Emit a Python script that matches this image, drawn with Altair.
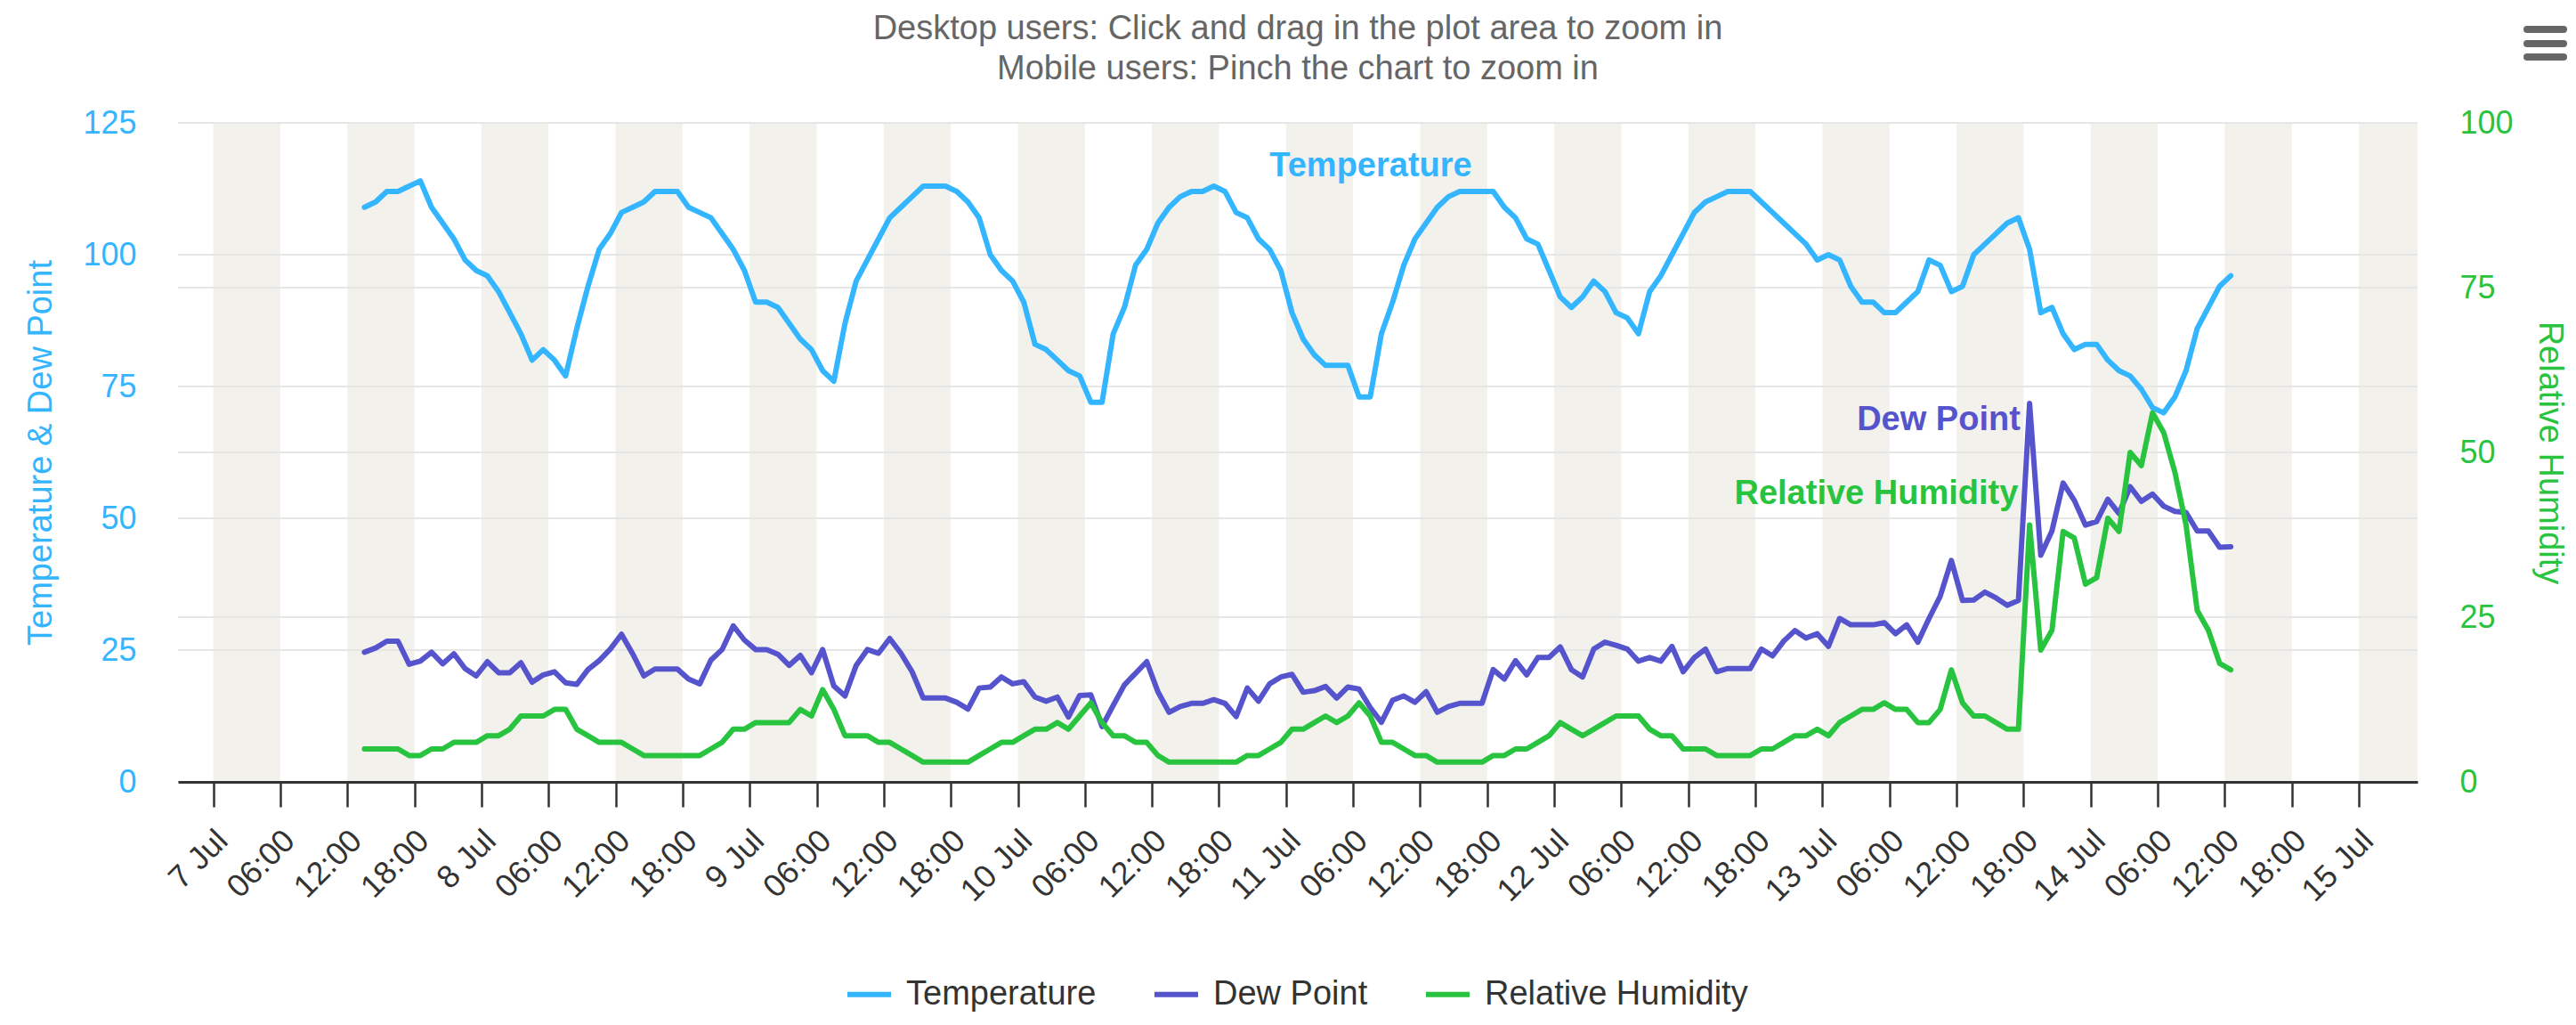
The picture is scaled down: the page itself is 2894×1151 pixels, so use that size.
import altair as alt
import pandas as pd

TEMP_COLOR = '#33B5FF'
DEW_COLOR = '#5654CC'
RH_COLOR = '#28C43F'
BAND_COLOR = '#F3F1EC'
GRID_COLOR = '#E6E6E6'
AXIS_COLOR = '#333333'
FONT = 'Liberation Sans'

# ---------------- data (hourly readings) ----------------
first_reading = '2021-07-07T13:32:00Z'

temperature = [
    109, 110, 112, 112, 113, 114, 109, 106, 103, 99, 97, 96, 93, 89, 85, 80, 82, 80, 77, 86,
    94, 101, 104, 108, 109, 110, 112, 112, 112, 109, 108, 107,
    104, 101, 97, 91, 91, 90, 87, 84, 82, 78, 76, 87, 95, 99, 103, 107, 109, 111,
    113, 113, 113, 112, 110, 107, 100, 97, 95, 91, 83, 82, 80, 78, 77, 72,
    72, 85, 90, 98, 101, 106, 109, 111, 112, 112, 113, 112, 108, 107, 103, 101, 97, 89,
    84, 81, 79, 79, 79, 73, 73, 85, 91, 98, 103, 106, 109, 111, 112, 112,
    112, 112, 109, 107, 103, 102, 97, 92, 90, 92, 95, 93, 89, 88, 85, 93, 96, 100,
    104, 108, 110, 111, 112, 112, 112, 110, 108, 106, 104, 102, 99, 100,
    99, 94, 91, 91, 89, 89, 91, 93, 99, 98, 93, 94, 100, 102, 104, 106, 107, 101,
    89, 90, 85, 82, 83, 83, 80, 78, 77, 74.5, 71, 70, 73, 78, 86, 90, 94, 96,
]

dew_point = [
    24.6, 25.4, 26.7, 26.7, 22.3, 22.9, 24.6, 22.4, 24.3, 21.5, 20.1, 22.8, 20.7, 20.7,
    22.6, 18.9, 20.3, 20.9, 18.8, 18.5, 21.3, 23.0, 25.2, 28.0, 24.3, 20.1, 21.4, 21.4,
    21.4, 19.5, 18.6, 23.1,
    25.1, 29.6, 26.9, 25.1, 25.1, 24.2, 22.1, 24.0, 20.7, 25.1, 18.2, 16.3, 22.1, 25.1,
    24.4, 27.2, 24.4, 20.9, 15.9, 15.9, 15.9, 15.1, 13.8, 17.8, 18.0, 19.9, 18.6, 19.0,
    16.1, 15.3, 16.1, 12.3, 16.4, 16.5,
    10.5, 14.5, 18.4, 20.6, 22.8, 17.1, 13.2, 14.3, 14.9, 14.9, 15.6, 14.9, 12.4, 17.8,
    15.3, 18.6, 19.9, 20.4, 17.0, 17.3, 18.1, 15.9, 18.0, 17.6, 14.1, 11.3, 15.5, 16.3,
    15.1, 17.1, 13.2, 14.3, 14.9, 14.9,
    14.9, 21.3, 19.5, 23.0, 20.3, 23.6, 23.6, 25.6, 21.3, 19.9, 25.2, 26.5, 25.9, 25.2,
    22.9, 23.6, 22.9, 25.7, 20.9, 23.6, 25.2, 20.9, 21.5, 21.5, 21.5, 25.2, 23.9, 26.7,
    28.7, 27.3, 28.1, 25.7,
    31.0, 29.8, 29.8, 29.8, 30.2, 28.1, 29.8, 26.5, 31.0, 35.2, 42.0, 34.4, 34.5, 36.0,
    34.9, 33.5, 34.4, 71.8, 43.0, 47.6, 56.7, 53.4, 48.7, 49.4, 53.6, 50.9, 56.0, 53.2,
    54.6, 52.3, 51.3, 51.1, 47.6, 47.6, 44.5, 44.6,
]

humidity = [
    5, 5, 5, 5, 4, 4, 5, 5, 6, 6, 6, 7, 7, 8, 10, 10, 10, 11, 11, 8, 7, 6, 6, 6, 5, 4,
    4, 4, 4, 4, 4, 5,
    6, 8, 8, 9, 9, 9, 9, 11, 10, 14, 11, 7, 7, 7, 6, 6, 5, 4, 3, 3, 3, 3, 3, 4, 5, 6,
    6, 7, 8, 8, 9, 8, 10, 12,
    9, 7, 7, 6, 6, 4, 3, 3, 3, 3, 3, 3, 3, 4, 4, 5, 6, 8, 8, 9, 10, 9, 10, 12, 10, 6,
    6, 5, 4, 4, 3, 3, 3, 3,
    3, 4, 4, 5, 5, 6, 7, 9, 8, 7, 8, 9, 10, 10, 10, 8, 7, 7, 5, 5, 5, 4, 4, 4, 4, 5,
    5, 6, 7, 7, 8, 7,
    9, 10, 11, 11, 12, 11, 11, 9, 9, 11, 17, 12, 10, 10, 9, 8, 8, 39, 20, 23, 38, 37,
    30, 31, 40, 38, 50, 48, 56, 53, 47, 39, 26, 23, 18, 17,
]

series_names = ['Temperature', 'Dew Point', 'Relative Humidity']
series_colors = [TEMP_COLOR, DEW_COLOR, RH_COLOR]

left_ticks = [0, 25, 50, 75, 100, 125]
right_ticks = [0, 25, 50, 75, 100]

x_start = '2021-07-06T20:51:00Z'
x_end = '2021-07-15T05:15:00Z'
first_tick = '2021-07-07T00:00:00Z'
last_tick = '2021-07-15T00:00:00Z'

# series label positions (time, left-axis value)
label_text = ['Temperature', 'Dew Point', 'Relative Humidity']
label_time = ['2021-07-11T07:35:00Z', '2021-07-13T10:24:00Z', '2021-07-13T04:49:00Z']
label_value = [116.8, 68.5, 54.5]

title_lines = ['Desktop users: Click and drag in the plot area to zoom in',
               'Mobile users: Pinch the chart to zoom in']

# ---------------- tables ----------------
def iso(ts):
    return ts.strftime('%Y-%m-%dT%H:%M:%SZ')

def ms(s):
    return int(pd.Timestamp(s).value // 10**6)

t0 = pd.Timestamp(first_reading)
times = [iso(t0 + pd.Timedelta(hours=i)) for i in range(len(temperature))]

df_td = pd.DataFrame({
    'time': times + times,
    'series': ['Temperature'] * len(times) + ['Dew Point'] * len(times),
    'value': temperature + dew_point,
})
df_rh = pd.DataFrame({'time': times, 'series': 'Relative Humidity', 'value': humidity})

tick_ms = list(range(ms(first_tick), ms(last_tick) + 1, 6 * 3600 * 1000))

end_ts = pd.Timestamp(x_end)
day0 = pd.Timestamp(first_tick)
band_rows = []
for d in range(9):
    for h in (0, 12):
        s = day0 + pd.Timedelta(days=d, hours=h)
        e = s + pd.Timedelta(hours=6)
        if s < end_ts:
            band_rows.append({'start': iso(s), 'end': iso(min(e, end_ts))})
df_bands = pd.DataFrame(band_rows)

one_row = pd.DataFrame({'a': [0]})

# ---------------- scales / axes ----------------
x_scale = alt.Scale(type='utc', domain=[ms(x_start), ms(x_end)], nice=False)
x_axis = alt.Axis(
    values=tick_ms,
    labelExpr="utchours(datum.value) == 0 ? utcFormat(datum.value, '%-d %b') : utcFormat(datum.value, '%H:%M')",
    labelAngle=315, labelAlign='right', labelBaseline='middle',
    labelFontSize=36, labelFont=FONT, labelColor=AXIS_COLOR,
    labelPadding=32, labelOffset=10, labelFlush=False, labelOverlap=False,
    tickSize=28, tickWidth=2.5, tickColor=AXIS_COLOR,
    domainColor=AXIS_COLOR, domainWidth=3,
    grid=False, title=None, zindex=1,
)
left_scale = alt.Scale(domain=[0, 125], nice=False, zero=True)
right_scale = alt.Scale(domain=[0, 100], nice=False, zero=True)

left_axis = alt.Axis(
    orient='left', values=left_ticks, grid=False, domain=False, ticks=False,
    labelColor=TEMP_COLOR, labelFontSize=36, labelFont=FONT, labelPadding=47,
    title='Temperature & Dew Point', titleColor=TEMP_COLOR, titleFontSize=38,
    titleFont=FONT, titleFontWeight='normal', titleAngle=270,
    titleX=-154, titleY=370, titleAlign='center', titleBaseline='middle',
)
right_axis = alt.Axis(
    orient='right', values=right_ticks, grid=False, domain=False, ticks=False,
    labelColor=RH_COLOR, labelFontSize=36, labelFont=FONT, labelPadding=47,
    title='Relative Humidity', titleColor=RH_COLOR, titleFontSize=38,
    titleFont=FONT, titleFontWeight='normal', titleAngle=90,
    titleX=147, titleY=370, titleAlign='center', titleBaseline='middle',
)

color_scale = alt.Scale(domain=series_names, range=series_colors)
legend = alt.Legend(
    title=None, orient='none', legendX=749, legendY=951, direction='horizontal',
    symbolType='stroke', symbolStrokeWidth=6, symbolSize=2401,
    labelFontSize=38, labelFont=FONT, labelColor=AXIS_COLOR, labelOffset=14,
    columnPadding=53, padding=0, labelLimit=0,
)

# ---------------- layers ----------------
bands = alt.Chart(df_bands).mark_rect(color=BAND_COLOR).encode(
    x=alt.X('start:T', scale=x_scale, axis=x_axis),
    x2='end:T',
)

grid_left = alt.Chart(pd.DataFrame({'v': left_ticks})).mark_rule(
    color=GRID_COLOR, strokeWidth=2).encode(
    y=alt.Y('v:Q', scale=left_scale, axis=left_axis))

grid_right = alt.Chart(pd.DataFrame({'v': right_ticks})).mark_rule(
    color=GRID_COLOR, strokeWidth=2).encode(
    y=alt.Y('v:Q', scale=right_scale, axis=right_axis))

lines_td = alt.Chart(df_td).mark_line(
    strokeWidth=6, strokeJoin='round', strokeCap='round').encode(
    x=alt.X('time:T', scale=x_scale, axis=x_axis),
    y=alt.Y('value:Q', scale=left_scale, axis=None),
    color=alt.Color('series:N', scale=color_scale, legend=legend, sort=series_names),
)

line_rh = alt.Chart(df_rh).mark_line(
    strokeWidth=6, strokeJoin='round', strokeCap='round').encode(
    x=alt.X('time:T', scale=x_scale, axis=x_axis),
    y=alt.Y('value:Q', scale=right_scale, axis=None),
    color=alt.Color('series:N', scale=color_scale, legend=legend, sort=series_names),
)

label_layers = []
for txt, tm, val, col in zip(label_text, label_time, label_value, series_colors):
    label_layers.append(
        alt.Chart(pd.DataFrame({'time': [tm], 'value': [val], 'label': [txt]})).mark_text(
            font=FONT, fontSize=38, fontWeight='bold', color=col,
            align='center', baseline='middle').encode(
            x=alt.X('time:T', scale=x_scale, axis=x_axis),
            y=alt.Y('value:Q', scale=left_scale, axis=None),
            text='label:N')
    )

menu_layers = []
for yy in (-105, -89, -74):
    menu_layers.append(
        alt.Chart(one_row).mark_rule(color='#666666', strokeWidth=8, strokeCap='round').encode(
            x=alt.value(2639), x2=alt.value(2680), y=alt.value(yy))
    )

chart = alt.layer(
    bands, grid_left, grid_right, lines_td, line_rh, *label_layers, *menu_layers
).resolve_scale(y='independent').properties(
    width=2516, height=740,
    autosize=alt.AutoSizeParams(type='none'),
    padding={'left': 192, 'top': 130, 'right': 170, 'bottom': 258},
    title=alt.TitleParams(
        text=title_lines, fontSize=38, font=FONT, fontWeight='normal',
        color='#666666', anchor='middle', frame='group', lineHeight=45, offset=-68),
).configure(font=FONT, background='white').configure_view(stroke=None)

chart.save('out.html', embed_options={'renderer': 'svg', 'actions': False})
